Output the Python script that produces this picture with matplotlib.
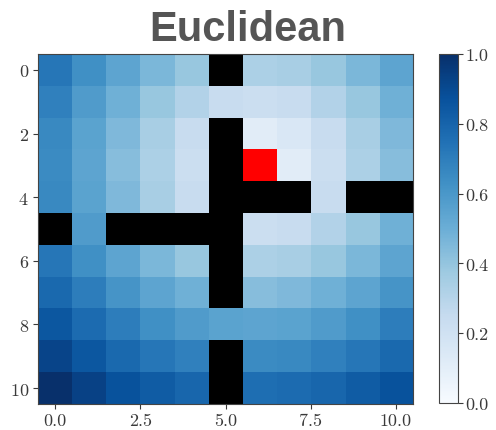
import numpy as np
import matplotlib
matplotlib.use("Agg")
import matplotlib.pyplot as plt
from matplotlib.colors import ListedColormap

plt.rcParams['font.family'] = 'serif'
plt.rcParams['font.serif'] = ['cmr10', 'DejaVu Serif']
plt.rcParams['axes.formatter.use_mathtext'] = True

title = "Euclidean"
N = np.nan
# normalized distance values (NaN = wall / goal)
values = np.array([
    [0.73, 0.63, 0.54, 0.46, 0.39, N,    0.33, 0.34, 0.39, 0.46, 0.54],
    [0.69, 0.58, 0.49, 0.39, 0.31, 0.24, 0.22, 0.24, 0.31, 0.39, 0.49],
    [0.66, 0.55, 0.45, 0.34, 0.24, N,    0.11, 0.15, 0.24, 0.34, 0.45],
    [0.65, 0.54, 0.43, 0.33, 0.22, N,    N,    0.11, 0.22, 0.33, 0.43],
    [0.66, 0.55, 0.45, 0.34, 0.24, N,    N,    N,    0.24, N,    N   ],
    [N,    0.58, N,    N,    N,    N,    0.22, 0.24, 0.31, 0.39, 0.49],
    [0.73, 0.63, 0.54, 0.46, 0.39, N,    0.33, 0.34, 0.39, 0.46, 0.54],
    [0.78, 0.70, 0.61, 0.54, 0.49, N,    0.43, 0.45, 0.49, 0.54, 0.61],
    [0.85, 0.77, 0.70, 0.63, 0.58, 0.55, 0.54, 0.55, 0.58, 0.63, 0.70],
    [0.92, 0.85, 0.78, 0.73, 0.69, N,    0.65, 0.66, 0.69, 0.73, 0.78],
    [1.00, 0.93, 0.87, 0.83, 0.79, N,    0.76, 0.77, 0.79, 0.83, 0.87],
])
# wall cells (row, col)
walls = [(0, 5), (2, 5), (3, 5), (4, 5), (4, 6), (4, 7), (4, 9), (4, 10),
         (5, 0), (5, 2), (5, 3), (5, 4), (5, 5), (6, 5), (7, 5), (9, 5), (10, 5)]
goal = (3, 6)
cbar_ticks = [0.0, 0.2, 0.4, 0.6, 0.8, 1.0]

fig = plt.figure(figsize=(4.96, 4.31), dpi=100)
W, H = 496, 431
ax = fig.add_axes([38 / W, 1 - 405 / H, 375 / W, 350 / H])
cax = fig.add_axes([439 / W, 1 - 404 / H, 19 / W, 349 / H])

im = ax.imshow(values, cmap='Blues', vmin=0, vmax=1, aspect='auto', interpolation='nearest')

overlay = np.full(values.shape, np.nan)
for r, c in walls:
    overlay[r, c] = 0
overlay[goal] = 1
ax.imshow(np.ma.masked_invalid(overlay), cmap=ListedColormap(['black', 'red']),
          vmin=0, vmax=1, aspect='auto', interpolation='nearest')

tick_color = '#3a3a3a'
for s in ax.spines.values():
    s.set_color('#444444')
    s.set_linewidth(0.8)
ax.tick_params(labelsize=13, colors=tick_color, length=3.5, pad=3)
ax.set_xticks([0, 2.5, 5, 7.5, 10])
ax.set_xticklabels(['0.0', '2.5', '5.0', '7.5', '10.0'])
ax.set_yticks([0, 2, 4, 6, 8, 10])

cb = fig.colorbar(im, cax=cax, ticks=cbar_ticks)
cb.ax.set_yticklabels([f"{t:.1f}" for t in cbar_ticks])
cb.ax.tick_params(labelsize=13, colors=tick_color, length=3.5, pad=2)
cb.outline.set_edgecolor('#444444')
cb.outline.set_linewidth(0.8)

fig.text(0.5, 1 - 30 / H, title, ha='center', va='center', fontsize=30,
         fontweight='bold', color='#555555', family='Liberation Sans')

fig.savefig('out.png', dpi=100)
